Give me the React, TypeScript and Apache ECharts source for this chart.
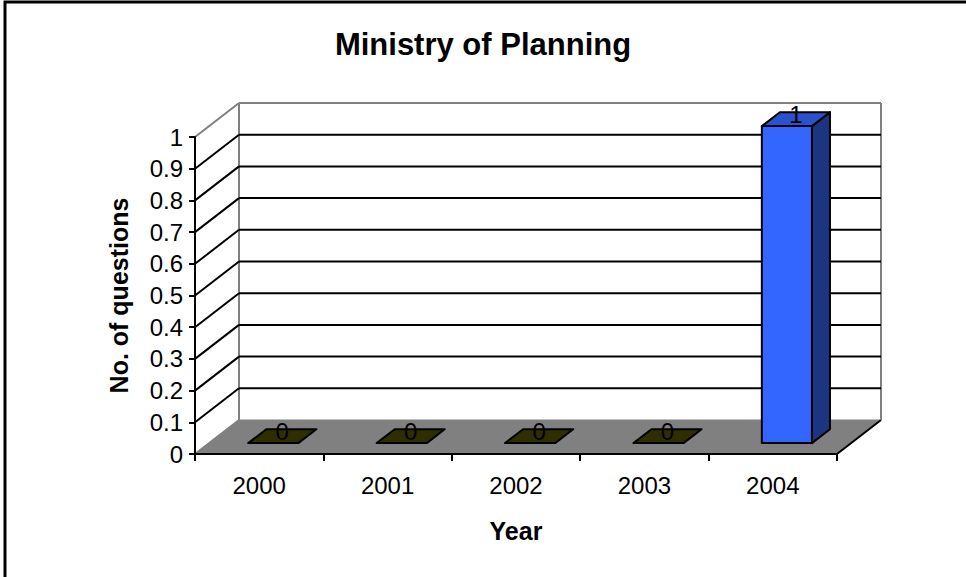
import React, { useEffect, useRef } from "react";
import * as echarts from "echarts";

const years = ["2000", "2001", "2002", "2003", "2004"];
const questions = [0, 0, 0, 0, 1];
const yTicks = [0, 0.1, 0.2, 0.3, 0.4, 0.5, 0.6, 0.7, 0.8, 0.9, 1];
const chartTitle = "Ministry of Planning";
const xName = "Year";
const yName = "No. of questions";

const FONT = "'Liberation Sans', Arial, sans-serif";
const DX = 44;
const DY = -34;
const F1 = 0.32; // bar front depth fraction
const F2 = 0.73; // bar back depth fraction
const HALF = 0.195; // half bar width / band

export default function App() {
  const ref = useRef<HTMLDivElement>(null);
  useEffect(() => {
    if (!ref.current) return;
    const chart = echarts.init(ref.current, null, { renderer: "svg" });
    const yMax = yTicks[yTicks.length - 1];
    const option: any = {
      animation: false,
      backgroundColor: "#ffffff",
      title: {
        text: chartTitle,
        left: "center",
        top: 24,
        textStyle: { fontFamily: FONT, fontSize: 31, fontWeight: "bold", color: "#000" },
      },
      graphic: [
        {
          type: "rect",
          shape: { x: 5, y: 2, width: 1100, height: 1100 },
          style: { fill: "none", stroke: "#000", lineWidth: 3 },
          silent: true,
        },
      ],
      grid: { left: 195, top: 137, width: 642, height: 317 },
      xAxis: {
        type: "category",
        data: years,
        z: 5,
        axisLine: { lineStyle: { color: "#000", width: 2 } },
        axisTick: { show: true, length: 7, lineStyle: { color: "#000", width: 2 } },
        axisLabel: { fontFamily: FONT, fontSize: 24, color: "#000", margin: 19 },
        name: xName,
        nameLocation: "middle",
        nameGap: 64,
        nameTextStyle: { fontFamily: FONT, fontSize: 25, fontWeight: "bold", color: "#000" },
        splitLine: { show: false },
      },
      yAxis: {
        type: "value",
        min: 0,
        max: yMax,
        interval: 0.1,
        z: 5,
        axisLine: { show: true, lineStyle: { color: "#000", width: 2 } },
        axisTick: { show: true, length: 6, lineStyle: { color: "#000", width: 2 } },
        axisLabel: {
          fontFamily: FONT,
          fontSize: 24,
          color: "#000",
          margin: 12,
          formatter: (v: number) => String(Math.round(v * 10) / 10),
        },
        splitLine: { show: false },
        name: yName,
        nameLocation: "middle",
        nameGap: 64,
        nameTextStyle: { fontFamily: FONT, fontSize: 25, fontWeight: "bold", color: "#000" },
      },
      series: [
        {
          type: "custom",
          name: "floor",
          z: 1,
          data: [[0, 0]],
          encode: { x: 0, y: 1 },
          renderItem: (params: any, api: any) => {
            const cs = params.coordSys;
            const l = cs.x;
            const r = cs.x + cs.width;
            const b = api.coord([0, 0])[1];
            const t = api.coord([0, yMax])[1];
            return {
              type: "group",
              children: [
                {
                  type: "polygon",
                  shape: { points: [[l, b], [r, b], [r + DX, b + DY], [l + DX, b + DY]] },
                  style: { fill: "#808080", stroke: "#808080", lineWidth: 1 },
                },
                {
                  type: "line",
                  shape: { x1: r, y1: b, x2: r + DX, y2: b + DY },
                  style: { stroke: "#000", lineWidth: 2 },
                },
                {
                  type: "line",
                  shape: { x1: l + DX, y1: t + DY, x2: l + DX, y2: b + DY },
                  style: { stroke: "#808080", lineWidth: 2 },
                },
                {
                  type: "line",
                  shape: { x1: r + DX, y1: t + DY, x2: r + DX, y2: b + DY },
                  style: { stroke: "#808080", lineWidth: 2 },
                },
              ],
            };
          },
        },
        {
          type: "custom",
          name: "walls",
          z: 2,
          data: yTicks.map((v) => [0, v]),
          encode: { x: 0, y: 1 },
          renderItem: (params: any, api: any) => {
            const cs = params.coordSys;
            const l = cs.x;
            const r = cs.x + cs.width;
            const v = api.value(1);
            const y = api.coord([0, v])[1];
            const edge = v === 0 || v === yMax;
            const children: any[] = [
              {
                type: "line",
                shape: { x1: l, y1: y, x2: l + DX, y2: y + DY },
                style: { stroke: edge ? "#808080" : "#000", lineWidth: 2 },
              },
            ];
            if (v !== 0) {
              children.push({
                type: "line",
                shape: { x1: l + DX, y1: y + DY, x2: r + DX, y2: y + DY },
                style: { stroke: edge ? "#808080" : "#000", lineWidth: 2 },
              });
            }
            return { type: "group", children };
          },
        },
        {
          type: "custom",
          name: "questions",
          z: 3,
          data: questions.map((v, i) => [i, v]),
          encode: { x: 0, y: 1 },
          renderItem: (params: any, api: any) => {
            const i = api.value(0);
            const v = api.value(1);
            const base = api.coord([i, 0]);
            const top = api.coord([i, v]);
            const band = api.size([1, 0])[0];
            const w = band * HALF;
            const cx = base[0];
            const dx1 = DX * F1, dy1 = DY * F1;
            const dx2 = DX * F2, dy2 = DY * F2;
            const L1 = cx + dx1 - w, R1 = cx + dx1 + w;
            const L2 = cx + dx2 - w, R2 = cx + dx2 + w;
            const t1 = top[1] + dy1, b1 = base[1] + dy1;
            const t2 = top[1] + dy2, b2 = base[1] + dy2;
            const stroke = { stroke: "#000", lineWidth: 2, lineJoin: "round" };
            const children: any[] = [];
            if (v > 0) {
              children.push({
                type: "polygon",
                shape: { points: [[R1, t1], [R2, t2], [R2, b2], [R1, b1]] },
                style: { fill: "#1c3582", ...stroke },
              });
              children.push({
                type: "rect",
                shape: { x: L1, y: t1, width: R1 - L1, height: b1 - t1 },
                style: { fill: "#3366ff", ...stroke },
              });
            }
            children.push({
              type: "polygon",
              shape: { points: [[L1, t1], [R1, t1], [R2, t2], [L2, t2]] },
              style: { fill: v > 0 ? "#2a52cc" : "#2e2e00", ...stroke },
            });
            children.push({
              type: "text",
              style: {
                text: String(v),
                x: (L1 + R2) / 2,
                y: (t1 + t2) / 2 - 5,
                align: "center",
                verticalAlign: "middle",
                fontFamily: FONT,
                fontSize: 24,
                fill: "#000",
              },
            });
            return { type: "group", children };
          },
        },
      ],
    };
    chart.setOption(option);
    return () => chart.dispose();
  }, []);
  return (
    <div
      ref={ref}
      style={{ position: "fixed", left: 0, top: 0, width: 966, height: 577 }}
    />
  );
}
